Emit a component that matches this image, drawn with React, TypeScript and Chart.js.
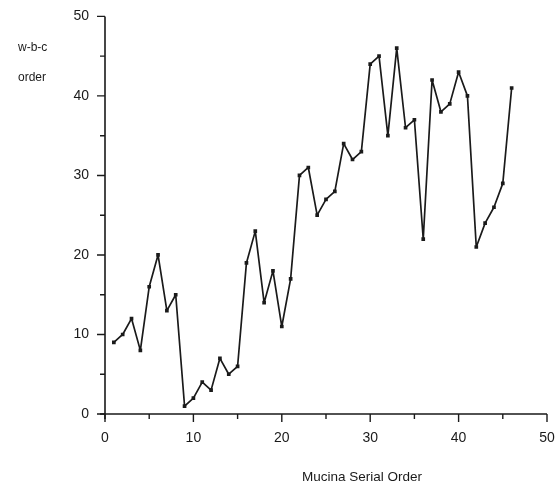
import React, { useEffect, useRef } from "react";
import { Chart, registerables } from "chart.js";

Chart.register(...registerables);

const serialOrder = [
  1, 2, 3, 4, 5, 6, 7, 8, 9, 10, 11, 12, 13, 14, 15, 16, 17, 18, 19, 20, 21, 22, 23,
  24, 25, 26, 27, 28, 29, 30, 31, 32, 33, 34, 35, 36, 37, 38, 39, 40, 41, 42, 43, 44, 45, 46,
];
const wbcOrder = [
  9, 10, 12, 8, 16, 20, 13, 15, 1, 2, 4, 3, 7, 5, 6, 19, 23, 14, 18, 11, 17, 30, 31,
  25, 27, 28, 34, 32, 33, 44, 45, 35, 46, 36, 37, 22, 42, 38, 39, 43, 40, 21, 24, 26, 29, 41,
];
const majorTicks = [0, 10, 20, 30, 40, 50];
const minorTicks = [5, 15, 25, 35, 45];
const xTitle = "Mucina Serial Order";
const yTitleLines = ["w-b-c", "order"];

const FONT = "'Liberation Sans', Arial, sans-serif";
const INK = "#1a1a1a";

const axesPlugin = {
  id: "customAxes",
  afterDraw(chart: any) {
    const ctx = chart.ctx;
    const xs = chart.scales.x;
    const ys = chart.scales.y;
    const x0 = xs.getPixelForValue(0);
    const y0 = ys.getPixelForValue(0);
    ctx.save();
    ctx.strokeStyle = INK;
    ctx.lineWidth = 1.6;
    ctx.beginPath();
    ctx.moveTo(x0, ys.getPixelForValue(50));
    ctx.lineTo(x0, y0 + 5);
    ctx.moveTo(x0 - 5, y0);
    ctx.lineTo(xs.getPixelForValue(50), y0);
    ctx.stroke();
    ctx.lineWidth = 1.4;
    ctx.beginPath();
    for (const v of majorTicks) {
      const py = ys.getPixelForValue(v);
      ctx.moveTo(x0, py);
      ctx.lineTo(x0 - 8, py);
      const px = xs.getPixelForValue(v);
      ctx.moveTo(px, y0);
      ctx.lineTo(px, y0 + 8);
    }
    for (const v of minorTicks) {
      const py = ys.getPixelForValue(v);
      ctx.moveTo(x0, py);
      ctx.lineTo(x0 - 5, py);
      const px = xs.getPixelForValue(v);
      ctx.moveTo(px, y0);
      ctx.lineTo(px, y0 + 5);
    }
    ctx.stroke();
    ctx.fillStyle = INK;
    ctx.font = `12px ${FONT}`;
    ctx.textAlign = "left";
    ctx.textBaseline = "middle";
    ctx.fillText(yTitleLines[0], 18, 48);
    ctx.fillText(yTitleLines[1], 18, 78);
    ctx.font = `13.5px ${FONT}`;
    ctx.textAlign = "center";
    ctx.fillText(xTitle, 362, 477);
    ctx.restore();
  },
};

export default function App() {
  const ref = useRef<HTMLCanvasElement>(null);
  useEffect(() => {
    document.body.style.margin = "0";
    const chart = new Chart(ref.current!, {
      type: "line",
      data: {
        datasets: [
          {
            data: serialOrder.map((x, i) => ({ x, y: wbcOrder[i] })),
            borderColor: INK,
            borderWidth: 1.7,
            borderJoinStyle: "round",
            pointStyle: "rect",
            pointRadius: 2.6,
            pointBackgroundColor: INK,
            pointBorderColor: INK,
            pointBorderWidth: 0,
            tension: 0,
          },
        ],
      },
      options: {
        responsive: false,
        animation: false,
        layout: { padding: { left: 0, right: 10, top: 8, bottom: 0 } },
        plugins: { legend: { display: false }, tooltip: { enabled: false } },
        scales: {
          x: {
            type: "linear",
            min: 0,
            max: 50,
            border: { display: false },
            grid: { display: false },
            ticks: {
              stepSize: 10,
              color: INK,
              padding: 8,
              font: { family: FONT, size: 14 },
            },
            afterFit(scale: any) {
              scale.height = 71;
              scale.paddingRight = 0;
              scale.paddingLeft = 0;
            },
          },
          y: {
            type: "linear",
            min: 0,
            max: 50,
            border: { display: false },
            grid: { display: false },
            ticks: {
              stepSize: 10,
              color: INK,
              padding: 8,
              font: { family: FONT, size: 14 },
            },
            afterFit(scale: any) {
              scale.width = 105;
            },
          },
        },
      },
      plugins: [axesPlugin],
    });
    return () => chart.destroy();
  }, []);
  return <canvas ref={ref} width={557} height={485} />;
}
